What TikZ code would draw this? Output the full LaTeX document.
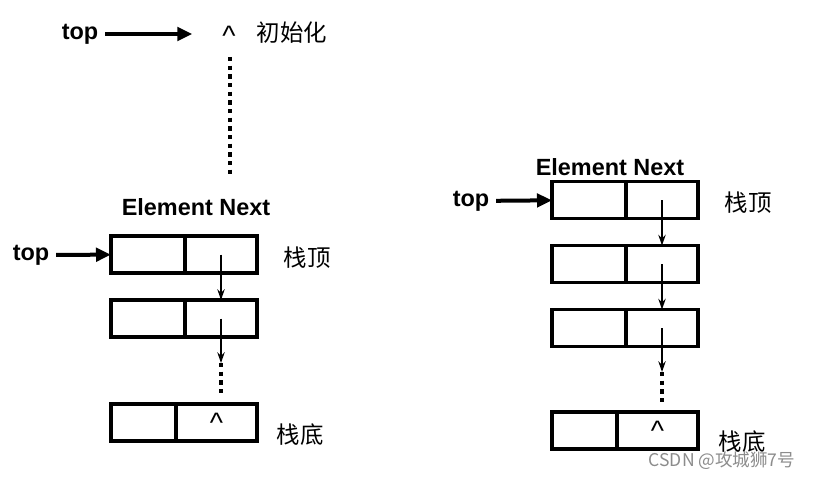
\documentclass[tikz,border=0pt]{standalone}
\usepackage{fontspec}
\setmainfont{Liberation Sans}
\newfontfamily\cjk{Noto Sans CJK SC}
\usetikzlibrary{positioning,arrows.meta}
\newcommand{\nilmark}{\raisebox{-4.5pt}{\fontsize{24}{28}\selectfont\textasciicircum}}
\tikzset{
  lbl/.style  ={font=\fontsize{20}{24}\selectfont\bfseries, inner sep=0pt},
  zh/.style   ={font=\fontsize{20}{24}\selectfont\cjk, inner sep=0pt},
  nil/.style  ={inner sep=0pt},
  cell/.style ={draw, line width=0.1cm, minimum height=1.11cm, inner sep=0pt,
                outer sep=0pt, anchor=west},
  cella/.style={cell, minimum width=2.22cm},
  cellb/.style={cell, minimum width=2.16cm},
  lasta/.style={cell, minimum width=1.95cm},
  lastb/.style={cell, minimum width=2.43cm},
  bigarr/.style={-{Triangle[length=0.45cm,width=0.4cm]}, line width=0.12cm,
                shorten <=0.2cm},
  ptr/.style  ={-{Stealth[length=0.32cm,width=0.22cm]}, line width=0.06cm},
  dotline/.style={line width=0.12cm, dash pattern=on 0.13cm off 0.13cm},
}
\begin{document}
\begin{tikzpicture}[x=0.03cm, y=-0.03cm]
  \useasboundingbox (0,0) rectangle (818,479);
  % initial state
  \node[lbl] (top0)  at (80,34)  {top};
  \node[nil] (caret0) at (229,36) {\nilmark};
  \node[zh]  (init)  at (292,33) {初始化};
  \draw[bigarr, shorten >=1.1cm] (top0) -- (top0 -| caret0);
  \coordinate (v0a) at (230,57);
  \coordinate (v0b) at (230,178);
  \draw[dotline] (v0a) -- (v0b);
  % left stack
  \node[lbl] (head1) at (196,207) {Element Next};
  \node[lbl] (top1)  at (31,255) {top};
  \node[cella] (l1a) at (111,254.5) {};
  \node[cellb] (l1b) at (l1a.east) {};
  \node[cella] (l2a) at (111,318.5) {};
  \node[cellb] (l2b) at (l2a.east) {};
  \node[lasta] (l3a) at (111,422.5) {};
  \node[lastb] (l3b) at (l3a.east) {\nilmark};
  \node[zh] (ltop) at (307,258) {栈顶};
  \node[zh] (lbot) at (300,435) {栈底};
  \draw[bigarr] (top1) -- (l1a);
  \draw[ptr] (l1b.center) -- (l2b.north);
  \coordinate (l2end) at (l2b.center |- 0,363);
  \draw[ptr] (l2b.center) -- (l2end);
  \draw[dotline] (l2end) -- ([yshift=0.27cm]l2end |- l3b.north);
  % right stack
  \node[lbl] (head2) at (610,167) {Element Next};
  \node[lbl] (top2)  at (471,201) {top};
  \node[cella] (r1a) at (552,200) {};
  \node[cellb] (r1b) at (r1a.east) {};
  \node[cella] (r2a) at (552,264) {};
  \node[cellb] (r2b) at (r2a.east) {};
  \node[cella] (r3a) at (552,328) {};
  \node[cellb] (r3b) at (r3a.east) {};
  \node[lasta] (r4a) at (552,430.5) {};
  \node[lastb] (r4b) at (r4a.east) {\nilmark};
  \node[zh] (rtop) at (748,203) {栈顶};
  \node[zh] (rbot) at (742,442) {栈底};
  \draw[bigarr] (top2) -- (r1a);
  \draw[ptr] (r1b.center) -- (r2b.north);
  \draw[ptr] (r2b.center) -- (r3b.north);
  \coordinate (r3end) at (r3b.center |- 0,372);
  \draw[ptr] (r3b.center) -- (r3end);
  \draw[dotline] (r3end) -- ([yshift=0.27cm]r3end |- r4b.north);
  % watermark
  \node[font=\fontsize{15}{18}\selectfont\cjk, text=black!45, inner sep=0pt]
    (mark) at (722,461) {CSDN @攻城狮7号};
\end{tikzpicture}
\end{document}
